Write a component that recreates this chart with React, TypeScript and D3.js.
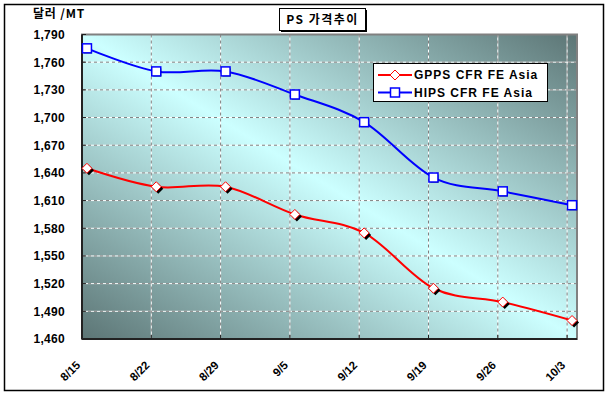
import React from 'react';
import * as d3 from 'd3';

const dates = ['8/15', '8/22', '8/29', '9/5', '9/12', '9/19', '9/26', '10/3'];
const gppsValues = [1645, 1625, 1625, 1595, 1575, 1515, 1500, 1480];
const hipsValues = [1775, 1750, 1750, 1725, 1695, 1635, 1620, 1605];
const yTicks = [1460, 1490, 1520, 1550, 1580, 1610, 1640, 1670, 1700, 1730, 1760, 1790];
const seriesNames = ['GPPS CFR FE Asia', 'HIPS CFR FE Asia'];

const width = 609;
const height = 397;
const plot = { left: 82, right: 577, top: 34.5, bottom: 339 };

const toDate = (s: string) => {
  const [m, d] = s.split('/').map(Number);
  return new Date(2005, m - 1, d);
};
const dayIndex = dates.map(s => d3.timeDay.count(toDate(dates[0]), toDate(s)));
const lastDay = dayIndex[dayIndex.length - 1];

const numFont = '"Liberation Sans", Arial, sans-serif';
const korFont = '"Noto Sans CJK KR", "Liberation Sans", sans-serif';

const App = () => {
  const x = d3.scaleLinear().domain([-0.5, lastDay + 0.5]).range([plot.left, plot.right]);
  const y = d3.scaleLinear().domain([1460, 1790]).range([plot.bottom, plot.top]);

  const line = d3
    .line<number>()
    .x((_, i) => x(dayIndex[i]))
    .y(v => y(v))
    .curve(d3.curveCardinal.tension(0));

  const vGrid = dayIndex.slice(1).map(d => d - 0.5);
  const fmt = d3.format(',');

  const diamond = (cx: number, cy: number, r: number) =>
    `M${cx},${cy - r}L${cx + r},${cy}L${cx},${cy + r}L${cx - r},${cy}Z`;

  return (
    <svg width={width} height={height} style={{ position: 'absolute', left: 0, top: 0 }}>
      <defs>
        <linearGradient id="bg" x1="0" y1="1" x2="1" y2="0">
          <stop offset="0" stopColor="#5c7575" />
          <stop offset="0.5" stopColor="#ccffff" />
          <stop offset="1" stopColor="#5c7575" />
        </linearGradient>
      </defs>
      <rect x={0} y={0} width={width} height={height} fill="#fff" />
      <rect x={4.5} y={4.5} width={599} height={386} fill="#fff" stroke="#000" strokeWidth={1.5} />

      {/* plot area */}
      <rect
        x={plot.left}
        y={plot.top}
        width={plot.right - plot.left}
        height={plot.bottom - plot.top}
        fill="url(#bg)"
      />
      {yTicks.slice(1, -1).map(t => (
        <g key={t}>
          <line x1={plot.left} x2={plot.right} y1={y(t)} y2={y(t)} stroke="#fff" strokeWidth={1} />
          <line x1={plot.left} x2={plot.right} y1={y(t)} y2={y(t)} stroke="#808080" strokeWidth={1} strokeDasharray="3 3" />
        </g>
      ))}
      {vGrid.map(d => (
        <g key={d}>
          <line x1={x(d)} x2={x(d)} y1={plot.top} y2={plot.bottom} stroke="#fff" strokeWidth={1} />
          <line x1={x(d)} x2={x(d)} y1={plot.top} y2={plot.bottom} stroke="#808080" strokeWidth={1} strokeDasharray="3 3" />
        </g>
      ))}
      <rect
        x={plot.left}
        y={plot.top}
        width={plot.right - plot.left}
        height={plot.bottom - plot.top}
        fill="none"
        stroke="#808080"
        strokeWidth={2}
      />
      <line x1={plot.left} x2={plot.left} y1={plot.top} y2={plot.bottom} stroke="#222" strokeWidth={2} />
      <line x1={plot.left} x2={plot.right} y1={plot.bottom} y2={plot.bottom} stroke="#222" strokeWidth={2} />
      {yTicks.map(t => (
        <line key={t} x1={plot.left} x2={plot.left + 4} y1={y(t)} y2={y(t)} stroke="#222" />
      ))}
      {vGrid.map(d => (
        <line key={d} x1={x(d)} x2={x(d)} y1={plot.bottom} y2={plot.bottom - 4} stroke="#222" />
      ))}

      {/* y labels */}
      {yTicks.map(t => (
        <text
          key={t}
          x={65}
          y={y(t)}
          dy="0.36em"
          textAnchor="end"
          fontFamily={numFont}
          fontWeight="bold"
          fontSize={12}
          letterSpacing={0.3}
          fill="#000"
        >
          {fmt(t)}
        </text>
      ))}

      {/* x labels */}
      {dates.map((s, i) => {
        const ax = x(dayIndex[i]) - 6;
        const ay = 366;
        return (
          <text
            key={s}
            transform={`translate(${ax},${ay}) rotate(-45)`}
            textAnchor="end"
            fontFamily={numFont}
            fontWeight="bold"
            fontSize={11.5}
            fill="#000"
          >
            {s}
          </text>
        );
      })}

      {/* series */}
      <path d={line(gppsValues) || ''} fill="none" stroke="#ff0000" strokeWidth={2} />
      <path d={line(hipsValues) || ''} fill="none" stroke="#0000ff" strokeWidth={2} />

      {gppsValues.map((v, i) => {
        const cx = x(dayIndex[i]);
        const cy = y(v);
        return (
          <g key={i}>
            <path d={diamond(cx + 2, cy + 2, 5)} fill="#000" />
            <path d={diamond(cx, cy, 5)} fill="#fff" stroke="#ff0000" strokeWidth={1} />
          </g>
        );
      })}
      {hipsValues.map((v, i) => {
        const cx = x(dayIndex[i]);
        const cy = y(v);
        return (
          <g key={i}>
            <rect x={cx - 3} y={cy - 3} width={8} height={8} fill="#000" />
            <rect x={cx - 4.5} y={cy - 4.5} width={9} height={9} fill="#fff" stroke="#0000ff" strokeWidth={1.5} />
          </g>
        );
      })}

      {/* legend */}
      <rect x={373.5} y={63.5} width={174} height={38} fill="#fff" stroke="#000" strokeWidth={1} />
      {seriesNames.map((name, i) => {
        const ly = 75 + i * 17.5;
        const color = i === 0 ? '#ff0000' : '#0000ff';
        return (
          <g key={name}>
            <line x1={378} x2={412} y1={ly} y2={ly} stroke={color} strokeWidth={2} />
            {i === 0 ? (
              <path d={diamond(395, ly, 5)} fill="#fff" stroke={color} strokeWidth={1} />
            ) : (
              <rect x={390.5} y={ly - 4.5} width={9} height={9} fill="#fff" stroke={color} strokeWidth={1.5} />
            )}
            <text
              x={414}
              y={ly}
              dy="0.36em"
              fontFamily={numFont}
              fontWeight="bold"
              fontSize={12}
              letterSpacing={1}
              fill="#000"
            >
              {name}
            </text>
          </g>
        );
      })}

      {/* title */}
      <rect x={281} y={10} width={86} height={22} fill="#000" />
      <rect x={279.5} y={8.5} width={86} height={22} fill="#fff" stroke="#000" strokeWidth={1} />
      <text
        x={322.5}
        y={20}
        dy="0.36em"
        textAnchor="middle"
        fontFamily={korFont}
        fontWeight="bold"
        fontSize={12}
        letterSpacing={1.5}
        fill="#000"
      >
        PS 가격추이
      </text>

      <text x={33} y={18} fontFamily={korFont} fontWeight="bold" fontSize={12} letterSpacing={0.8} fill="#000">
        달러 /MT
      </text>
    </svg>
  );
};

export default App;
